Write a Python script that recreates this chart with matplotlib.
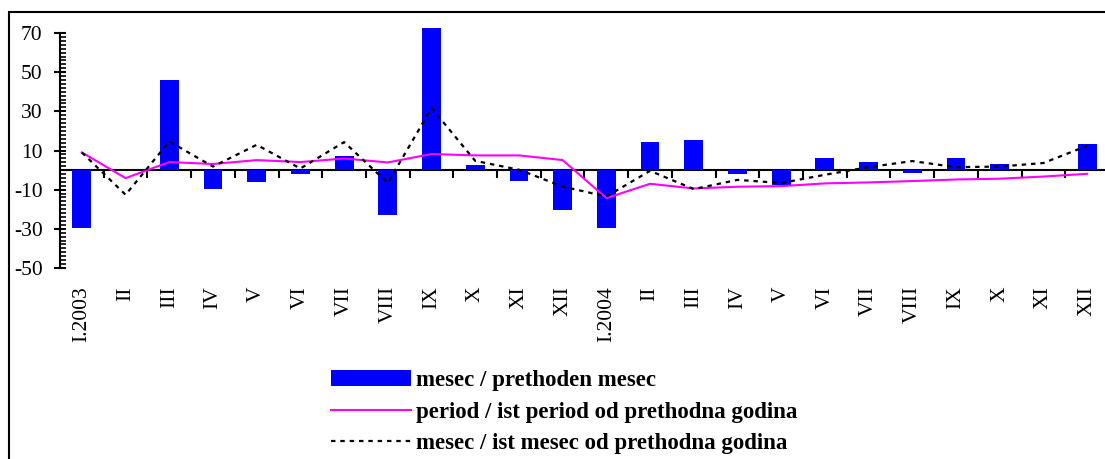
import matplotlib
matplotlib.use('Agg')
import matplotlib.pyplot as plt
from matplotlib.patches import Rectangle, Patch
from matplotlib.lines import Line2D
from matplotlib.ticker import MultipleLocator

months = ['I.2003', 'II', 'III', 'IV', 'V', 'VI', 'VII', 'VIII', 'IX', 'X', 'XI', 'XII',
          'I.2004', 'II', 'III', 'IV', 'V', 'VI', 'VII', 'VIII', 'IX', 'X', 'XI', 'XII']

# mesec / prethoden mesec (bars)
month_prev = [-29.5, 0.0, 46.0, -9.5, -6.3, -2.2, 7.3, -22.8, 72.5, 2.4, -5.5, -20.6,
              -29.5, 14.5, 15.5, -2.2, -7.5, 6.3, 4.2, -1.4, 6.3, 3.2, 0.0, 13.4]

# period / ist period od prethodna godina (magenta line)
period_yoy = [9.0, -4.1, 4.1, 3.1, 5.1, 4.1, 5.9, 3.9, 8.2, 7.5, 7.5, 5.1,
              -14.3, -7.0, -9.4, -8.5, -8.2, -6.8, -6.3, -5.6, -4.8, -4.4, -3.3, -1.9]

# mesec / ist mesec od prethodna godina (dotted line)
month_yoy = [9.0, -12.6, 14.6, 1.8, 12.9, 0.8, 14.3, -6.6, 31.7, 4.7, 0.2, -8.4,
             -13.5, -0.4, -9.7, -5.0, -6.6, -2.4, 1.5, 4.6, 1.5, 1.8, 3.6, 12.4]

labels = ['mesec / prethoden mesec',
          'period / ist period od prethodna godina',
          'mesec / ist mesec od prethodna godina']

plt.rcParams['axes.unicode_minus'] = False

W, H = 1105, 459
fig = plt.figure(figsize=(W / 100, H / 100), dpi=100)
serif = 'Liberation Serif'

# plot area: y-axis at x=60px, top (70) at 33px, bottom (-50) at 268px
ax = fig.add_axes([60 / W, 1 - 268 / H, (1109 - 60) / W, 235 / H])
x = list(range(len(months)))

ax.bar(x, month_prev, width=0.43, color='#0000FF', clip_on=False, zorder=2)
ax.plot(x, period_yoy, color='#FF00FF', lw=1.5, zorder=3)
ax.plot(x, month_yoy, color='black', lw=1.6, linestyle=(0, (2, 2.2)), zorder=4)

ax.set_xlim(-0.5, len(months) - 0.5)
ax.set_ylim(-50, 70)

for s in ['top', 'right', 'bottom']:
    ax.spines[s].set_visible(False)
ax.spines['left'].set_linewidth(1.5)

ax.set_yticks(range(-50, 71, 20))
ax.yaxis.set_minor_locator(MultipleLocator(2))
ax.tick_params(axis='y', which='major', direction='inout', length=9, width=1.5,
               pad=8, labelsize=15.5)
ax.tick_params(axis='y', which='minor', direction='in', length=4, width=1.2)
for t in ax.get_yticklabels():
    t.set_fontfamily(serif)

ax.set_xticks(x)
ax.set_xticklabels(months, rotation=90, fontfamily=serif, fontsize=15.5)
ax.tick_params(axis='x', length=0, pad=13)

# zero line with category boundary ticks
zero = ax.secondary_xaxis(0, transform=ax.transData)
zero.set_xticks([i + 0.5 for i in x])
zero.tick_params(direction='out', length=6, width=1.5, labelbottom=False)
zero.spines['bottom'].set_linewidth(1.5)

handles = [Patch(facecolor='#0000FF', edgecolor='none'),
           Line2D([], [], color='#FF00FF', lw=1.5),
           Line2D([], [], color='black', lw=1.6, linestyle=(0, (2, 2.2)))]
fig.legend(handles, labels, loc='center left', bbox_to_anchor=(331 / W, 1 - 412 / H),
           frameon=False, borderpad=0, borderaxespad=0, handlelength=3.5,
           handleheight=0.75, handletextpad=0.22, labelspacing=0.45,
           prop={'family': serif, 'weight': 'bold', 'size': 16.5})

# outer chart border (cut off at right and bottom)
fig.add_artist(Rectangle((9 / W, -0.1), 1.2, 1 - 12 / H + 0.1, transform=fig.transFigure,
                         fill=False, edgecolor='black', lw=1.5))

fig.savefig('out.png', dpi=100)
